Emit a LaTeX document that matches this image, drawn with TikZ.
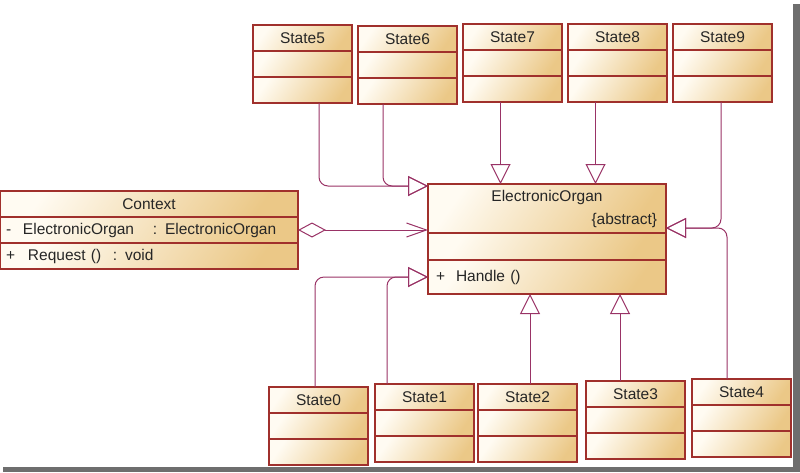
\documentclass[tikz,border=0pt]{standalone}
\usepackage{fontspec}
\setmainfont{Liberation Sans}
\usepackage{tikz}
\usetikzlibrary{arrows.meta,positioning,calc}
\definecolor{umlLine}{HTML}{993366}
\definecolor{umlBorder}{HTML}{A0302C}
\definecolor{umlLight}{HTML}{FFFBF2}
\definecolor{umlDark}{HTML}{EBC887}
\definecolor{umlShadow}{HTML}{6E6E6E}

\begin{document}
\begin{tikzpicture}[x=1pt,y=-1pt,font=\fontsize{15.5}{17}\selectfont,
  part/.style={draw=umlBorder,line width=1.1pt,top color=umlLight,bottom color=umlDark,shading angle=55,inner sep=0pt,outer sep=0pt,minimum width=99pt,minimum height=26pt,text=black!85},
  gen/.style={draw=umlLine,line width=1pt,rounded corners=9pt,-{Triangle[open,length=20pt,width=20pt]}},
  agg/.style={draw=umlLine,line width=1pt,{Diamond[open,length=28pt,width=15pt]}-{Straight Barb[length=20pt,width=14pt]}}]
\useasboundingbox (0,0) rectangle (800,472);
\fill[umlShadow] (793,4) rectangle (800,472);
\fill[umlShadow] (3,467) rectangle (800,472);
% state classes: number / top left corner
\foreach \s/\x/\y in {5/253/25,6/358/26,7/463/24,8/568/24,9/673/24,0/269/387,1/375/384,2/478/384,3/586/381,4/692/379}{
  \node[part,anchor=north west] (st\s) at (\x,\y) {State\s};
  \node[part,below=0pt of st\s] (st\s att) {};
  \node[part,below=0pt of st\s att] (st\s op) {};
}
% context
\node[part,anchor=north west,minimum width=298pt] (ctx) at (0,191) {Context};
\node[part,below=0pt of ctx,minimum width=298pt,text width=286pt,align=left] (ctxatt) {\makebox[17pt][l]{-}\makebox[130pt][l]{ElectronicOrgan}: ElectronicOrgan};
\node[part,below=0pt of ctxatt,minimum width=298pt,text width=286pt,align=left] (ctxop) {\makebox[22pt][l]{+}\makebox[85pt][l]{Request ()}: void};
% abstract state
\node[part,anchor=north west,minimum width=238pt,minimum height=49pt,align=center] (eo) at (428,184) {ElectronicOrgan\\[6pt]\makebox[220pt][r]{\{abstract\}}};
\node[part,below=0pt of eo,minimum width=238pt,minimum height=27pt] (eoatt) {};
\node[part,below=0pt of eoatt,minimum width=238pt,minimum height=34pt,text width=222pt,align=left] (eoop) {\makebox[20pt][l]{+}Handle ()};
% generalizations
\draw[gen] ([xshift=16.5pt]st5op.south) |- ([yshift=-2pt]eo.north west);
\draw[gen] ([xshift=-24.5pt]st6op.south) |- ([yshift=-2pt]eo.north west);
\draw[gen] ([xshift=-12pt]st7op.south) -- ([xshift=-12pt]st7op.south |- eo.north);
\draw[gen] ([xshift=-22pt]st8op.south) -- ([xshift=-22pt]st8op.south |- eo.north);
\draw[gen] ([xshift=-1.5pt]st9op.south) |- ([yshift=5pt]eo.south east);
\draw[gen] ([xshift=-14.5pt]st4.north) |- ([yshift=5pt]eo.south east);
\draw[gen] ([xshift=-3.5pt]st0.north) |- (eoop.west);
\draw[gen] ([xshift=-37.5pt]st1.north) |- (eoop.west);
\draw[gen] ([xshift=2.5pt]st2.north) -- ([xshift=2.5pt]st2.north |- eoop.south);
\draw[gen] ([xshift=-15.5pt]st3.north) -- ([xshift=-15.5pt]st3.north |- eoop.south);
% aggregation
\draw[agg] (ctxatt.east) -- (ctxatt.east -| eo.west);
\end{tikzpicture}
\end{document}
